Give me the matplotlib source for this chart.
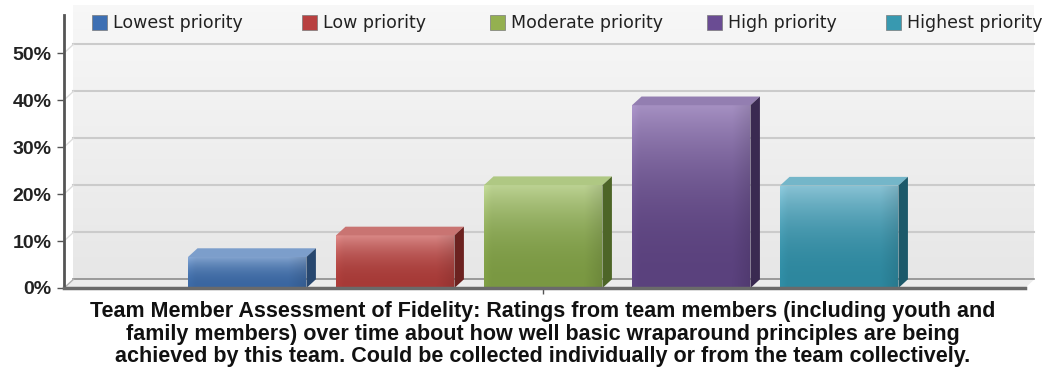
import numpy as np
import matplotlib.pyplot as plt
from matplotlib.patches import Polygon, Rectangle
from matplotlib.colors import to_rgb

categories = ['Lowest priority', 'Low priority', 'Moderate priority',
              'High priority', 'Highest priority']
percentages = [6.6, 11.2, 21.9, 38.9, 21.8]
y_ticks = [0, 10, 20, 30, 40, 50]
y_tick_labels = ['0%', '10%', '20%', '30%', '40%', '50%']
title_lines = [
    'Team Member Assessment of Fidelity: Ratings from team members (including youth and',
    'family members) over time about how well basic wraparound principles are being',
    'achieved by this team. Could be collected individually or from the team collectively.',
]

# shading per series: light top of front face, dark bottom, top face, side face
light_cols = ['#87a7d1', '#d98987', '#bcd293', '#a590c2', '#8ac3d5']
dark_cols = ['#3a66a0', '#a63a37', '#7a9842', '#5a417d', '#2d879e']
top_cols = ['#7c9ecb', '#c97472', '#afc883', '#937eb1', '#74b6c9']
side_cols = ['#27476f', '#6c2220', '#4d6527', '#3a2a51', '#1c596a']
legend_cols = ['#3d6fb3', '#b84040', '#94b050', '#6a4c93', '#3899b0']

# legend swatch left edges, in pixels
legend_px = [92, 302, 490, 707, 886]

X0, X1 = -1.238, 5.255
Y_TOP = 58.1
DX, DY = 0.064, 1.85
BAR_W = 0.8
W, H = 1047, 370


def shaded_face(ax, verts, c_top, c_bot, power, zorder):
    poly = Polygon(verts, closed=True, facecolor='none', edgecolor='none', zorder=zorder)
    ax.add_patch(poly)
    xs = [v[0] for v in verts]
    ys = [v[1] for v in verts]
    t = np.linspace(0, 1, 200) ** power
    u = np.linspace(0, 1, 60)
    top, bot = np.array(to_rgb(c_top)), np.array(to_rgb(c_bot))
    col = bot[None, :] + (top - bot)[None, :] * t[:, None]
    edge = 1.0 - 0.10 * np.clip((u - 0.85) / 0.15, 0, 1) + 0.05 * np.clip((0.06 - u) / 0.06, 0, 1)
    img = np.clip(col[:, None, :] * edge[None, :, None], 0, 1)
    im = ax.imshow(img, extent=(min(xs), max(xs), min(ys), max(ys)), origin='lower',
                   aspect='auto', interpolation='bilinear', zorder=zorder)
    im.set_clip_path(poly)


fig = plt.figure(figsize=(W / 100, H / 100), dpi=100)
ax = fig.add_axes([64 / W, 82 / H, (1025 - 64) / W, (288 - 15) / H])

# back wall with a soft vertical gradient
wall = np.linspace(0, 1, 100)[:, None]
wall_img = np.dstack([0.905 + 0.065 * wall] * 3)
wall_im = ax.imshow(wall_img, extent=(X0 + DX, X1 + DX, DY, Y_TOP + 2), origin='lower',
                    aspect='auto', zorder=0)
wall_im.set_clip_on(False)

# floor
ax.add_patch(Polygon([(X0, 0), (X1, 0), (X1 + DX, DY), (X0 + DX, DY)],
                     facecolor='#ececec', edgecolor='none', zorder=1, clip_on=False))
ax.plot([X0 + DX, X1 + DX], [DY, DY], color='#8c8c8c', lw=1.2, zorder=2, clip_on=False)
ax.plot([X0, X0 + DX], [0, DY], color='#b0b0b0', lw=1, zorder=2, clip_on=False)

# grid lines on the back wall, with their short run along the left side
for v in y_ticks[1:]:
    ax.plot([X0 + DX, X1 + DX], [v + DY, v + DY], color='#cbcbcb', lw=1.5, zorder=2, clip_on=False)
    ax.plot([X0, X0 + DX], [v, v + DY], color='#dddddd', lw=1, zorder=2, clip_on=False)

# 3D bars
for i, val in enumerate(percentages):
    xl, xr = i - BAR_W / 2, i + BAR_W / 2
    shaded_face(ax, [(xl, 0), (xr, 0), (xr, val), (xl, val)],
                light_cols[i], dark_cols[i], 2.2, 5)
    ax.add_patch(Polygon([(xl, val), (xr, val), (xr + DX, val + DY), (xl + DX, val + DY)],
                         facecolor=top_cols[i], edgecolor='none', zorder=5))
    ax.add_patch(Polygon([(xr, 0), (xr + DX, DY), (xr + DX, val + DY), (xr, val)],
                         facecolor=side_cols[i], edgecolor='none', zorder=5))

ax.set_xlim(X0, X1)
ax.set_ylim(0, Y_TOP)
ax.set_facecolor('none')

for side in ('top', 'right'):
    ax.spines[side].set_visible(False)
ax.spines['left'].set_color('#555555')
ax.spines['left'].set_linewidth(2)
ax.spines['bottom'].set_color('#6a6a6a')
ax.spines['bottom'].set_linewidth(2.5)
ax.spines['left'].set_zorder(6)
ax.spines['bottom'].set_zorder(6)

ax.set_yticks(y_ticks)
ax.set_yticklabels(y_tick_labels, fontsize=14, fontweight='bold', color='#222222',
                   family='Liberation Sans')
ax.tick_params(axis='y', length=5, width=1, color='#555555', pad=4)
ax.set_xticks([2])
ax.set_xticklabels([''])
ax.tick_params(axis='x', length=4, width=1, color='#555555')

# legend row across the top
for lab, col, px in zip(categories, legend_cols, legend_px):
    fig.patches.append(Rectangle((px / W, 1 - 30 / H), 15 / W, 15 / H,
                                 transform=fig.transFigure, facecolor=col,
                                 edgecolor='#7a7a7a', linewidth=0.5))
    fig.text((px + 21) / W, 1 - 22.5 / H, lab, ha='left', va='center',
             fontsize=12.5, color='#222222', family='DejaVu Sans')

fig.text(543 / W, 1 - 301.5 / H, '\n'.join(title_lines), ha='center', va='top',
         fontsize=15.5, fontweight='bold', color='#111111',
         family='Liberation Sans', linespacing=1.07)

fig.savefig('out.png', dpi=100)
